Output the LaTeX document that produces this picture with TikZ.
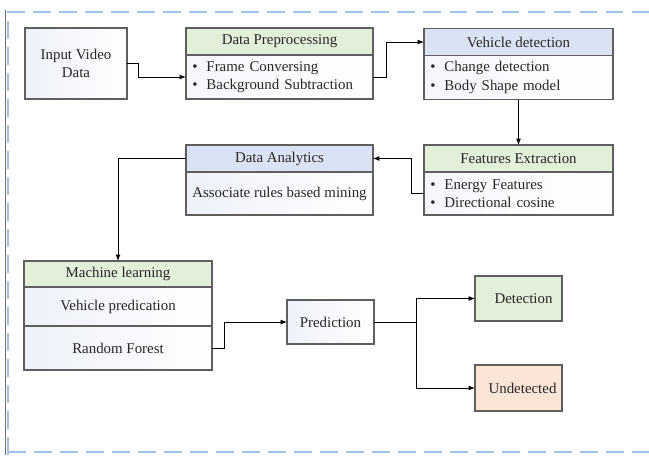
\documentclass[tikz,border=0pt]{standalone}
\usepackage{fontspec}
\setmainfont{Liberation Serif}
\usetikzlibrary{positioning,arrows.meta}

\definecolor{headgreen}{RGB}{226,239,217}
\definecolor{headblue}{RGB}{218,227,243}
\definecolor{peach}{RGB}{251,229,214}
\definecolor{boxgray}{RGB}{95,95,95}
\definecolor{bodyblue}{RGB}{226,232,244}
\definecolor{dashblue}{RGB}{157,195,230}

\tikzset{
  box/.style={draw=boxgray, line width=0.8pt, outer sep=0pt, inner sep=0pt,
    font=\fontsize{10.6}{13}\selectfont, text=black!85},
  head/.style={box, minimum height=0.675cm},
  body/.style={box, left color=bodyblue!35, right color=white, align=left},
  plain/.style={box, left color=bodyblue!60, right color=white, align=center},
  link/.style={line width=0.7pt, -{Latex[length=4.5pt,width=3.5pt]}},
}
\newcommand{\itm}[1]{\makebox[0.35cm][l]{\textbullet}#1}

\begin{document}
\begin{tikzpicture}[x=0.025cm, y=-0.025cm]
\useasboundingbox (0,0) rectangle (649,455);
\draw[dashblue, line width=1.2pt, dash pattern=on 12.5pt off 6pt] (8,455) -- (8,12) -- (649,12);
\draw[dashblue, line width=1.2pt, dash pattern=on 12.5pt off 6pt] (8,452) -- (649,452);
\draw[black!55, line width=0.5pt] (5,10) -- (5,455);

\node[plain, minimum width=2.55cm, minimum height=1.775cm] (in) at (76,63.5) {Input Video\\Data};

\node[head, fill=headgreen, minimum width=4.675cm] (pre) at (279.5,41.5) {Data Preprocessing};
\node[body, minimum width=4.675cm, minimum height=1.1cm, text width=4.35cm, below=0pt of pre] (prebody)
  {\itm{Frame Conversing}\\\itm{Background Subtraction}};

\node[head, fill=headblue, minimum width=4.725cm] (veh) at (518.5,42) {Vehicle detection};
\node[body, minimum width=4.725cm, minimum height=1.1cm, text width=4.4cm, below=0pt of veh] (vehbody)
  {\itm{Change detection}\\\itm{Body Shape model}};

\node[head, fill=headgreen, minimum width=4.725cm] (feat) at (518.5,158.5) {Features Extraction};
\node[body, minimum width=4.725cm, minimum height=1.075cm, text width=4.4cm, below=0pt of feat] (featbody)
  {\itm{Energy Features}\\\itm{Directional cosine}};

\node[head, fill=headblue, minimum width=4.675cm] (ana) at (279.5,158.5) {Data Analytics};
\node[plain, minimum width=4.675cm, minimum height=1.075cm, below=0pt of ana] (anabody)
  {Associate rules based mining};

\node[head, fill=headgreen, minimum width=4.7cm, minimum height=0.65cm] (ml) at (118,274) {Machine learning};
\node[plain, minimum width=4.7cm, minimum height=0.975cm, below=0pt of ml] (mlveh) {Vehicle predication};
\node[plain, minimum width=4.7cm, minimum height=1.1cm, below=0pt of mlveh] (mlrf) {Random Forest};

\node[plain, minimum width=2.175cm, minimum height=1.1cm] (pred) at (330.5,322) {Prediction};
\node[box, fill=headgreen, minimum width=2.175cm, minimum height=1.125cm] (det) at (518.5,298.5) {\hspace{0.25cm}Detection};
\node[box, fill=peach, minimum width=2.175cm, minimum height=1.15cm] (undet) at (518.5,388) {\hspace{0.2cm}Undetected};

\draw[link] (in.east) -- ++(11,0) |- (prebody.west);
\draw[link] (prebody.east) -- ++(13,0) |- (veh.west);
\draw[link] (vehbody.south) -- (feat.north);
\draw[link] (featbody.west) -- ++(-12,0) |- (ana.east);
\draw[link] (ana.west) -| (ml.north);
\draw[link] (mlrf.east) -- ++(12,0) |- (pred.west);
\draw[line width=0.7pt] (pred.east) -- ++(42,0) coordinate (split);
\draw[link] (split) |- (det.west);
\draw[link] (split) |- (undet.west);
\end{tikzpicture}
\end{document}
